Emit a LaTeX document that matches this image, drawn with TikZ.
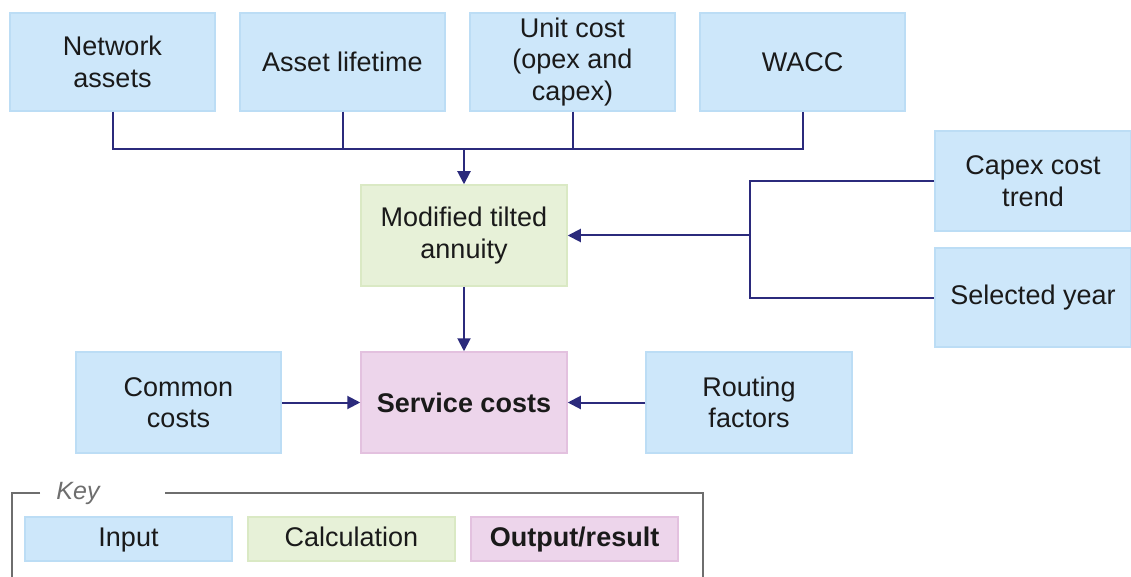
\documentclass[tikz,border=0pt]{standalone}
\usepackage{fontspec}
\setmainfont{Liberation Sans}
\usetikzlibrary{arrows.meta}
\definecolor{inFill}{HTML}{CDE7FA}
\definecolor{inLine}{HTML}{BCDDF5}
\definecolor{calcFill}{HTML}{E7F1D8}
\definecolor{calcLine}{HTML}{DAE9C4}
\definecolor{outFill}{HTML}{EDD5EB}
\definecolor{outLine}{HTML}{E3C1DF}
\definecolor{navy}{HTML}{2B2A7C}
\definecolor{txt}{HTML}{1A1A1A}
\definecolor{keygrey}{HTML}{6E6E6E}
\tikzset{
  boxbase/.style={rectangle, line width=1.5pt, align=center, text=txt,
    font=\fontsize{27}{31.5}\selectfont, inner sep=0pt},
  inbox/.style={boxbase, fill=inFill, draw=inLine, minimum width=205pt, minimum height=98pt},
  calcbox/.style={boxbase, fill=calcFill, draw=calcLine, minimum width=206pt, minimum height=101pt},
  outbox/.style={boxbase, fill=outFill, draw=outLine, minimum width=206pt, minimum height=101pt, font=\fontsize{27}{31.5}\selectfont\bfseries},
  keybox/.style={minimum width=207pt, minimum height=44pt, text height=19pt, text depth=5pt},
  conn/.style={draw=navy, line width=2pt},
  arr/.style={conn, -{Triangle[length=13pt,width=13pt]}},
  keyline/.style={draw=keygrey, line width=1.8pt}
}
\begin{document}
\begin{tikzpicture}[x=1pt,y=-1pt]
\clip (0,0) rectangle (1131,577);
\fill[white] (0,0) rectangle (1131,577);
% top inputs
\node[inbox] (na) at (112.5,62) {Network\\assets};
\node[inbox] (al) at (342.5,62) {Asset lifetime};
\node[inbox] (uc) at (572.5,62) {Unit cost\\(opex and\\capex)};
\node[inbox] (wacc) at (802.5,62) {WACC};
% calculation
\node[calcbox] (mta) at (464,235.5) {Modified tilted\\annuity};
% right inputs
\node[inbox, minimum width=196pt, minimum height=100pt] (cct) at (1033,181) {Capex cost\\trend};
\node[inbox, minimum width=196pt, minimum height=99pt] (sy) at (1033,297.5) {Selected year};
% output row
\node[outbox] (sc) at (464,402.5) {Service costs};
\node[inbox, minimum height=101pt] (cc) at (178.5,402.5) {Common\\costs};
\node[inbox, minimum width=206pt, minimum height=101pt] (rf) at (749,402.5) {Routing\\factors};
% connectors
\coordinate (bus) at (464,149);
\coordinate (vx) at (750,236);
\draw[conn] (na.south) |- (wacc.south |- bus) -- (wacc.south);
\draw[conn] (al.south) -- (al.south |- bus);
\draw[conn] (uc.south) -- (uc.south |- bus);
\draw[arr] (bus) -- (mta.north);
\draw[conn] (cct.west) -| (vx |- sy.west) -- (sy.west);
\draw[arr] (vx |- mta.east) -- (mta.east);
\draw[arr] (mta.south) -- (sc.north);
\draw[arr] (cc.east) -- (sc.west);
\draw[arr] (rf.west) -- (sc.east);
% key
\coordinate (k1) at (40,493);
\coordinate (k2) at (165,493);
\draw[keyline] (k1) -- (12,493) -- (12,590);
\draw[keyline] (k2) -- (703,493) -- (703,590);
\node[text=keygrey, font=\fontsize{25}{28}\selectfont\itshape] (keylabel) at (78,493) {Key};
\node[inbox, keybox] (kin) at (128.5,539) {Input};
\node[calcbox, keybox] (kcalc) at (351.5,539) {Calculation};
\node[outbox, keybox] (kout) at (574.5,539) {Output/result};
\end{tikzpicture}
\end{document}
